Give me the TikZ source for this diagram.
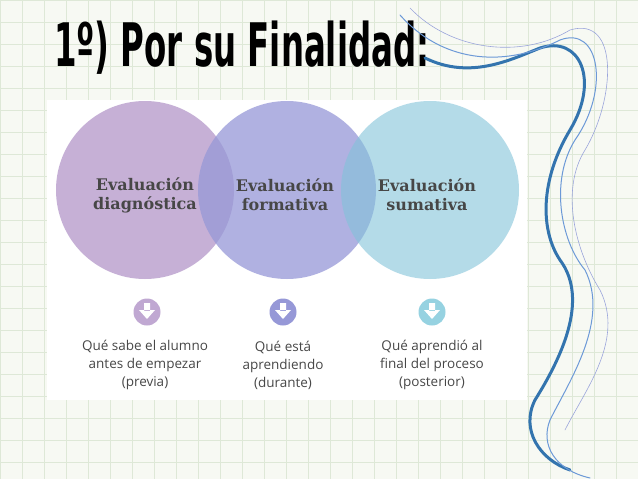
\documentclass[tikz,border=0pt]{standalone}
\usepackage{fontspec}
\setmainfont{Open Sans}
\newfontfamily\slab{DejaVu Serif}
\newfontfamily\titlef{DejaVu Sans Condensed}
\definecolor{bg}{RGB}{247,249,243}
\definecolor{gridc}{RGB}{222,232,215}
\definecolor{cA}{RGB}{192,168,210}
\definecolor{cB}{RGB}{150,152,215}
\definecolor{cC}{RGB}{130,195,218}
\definecolor{iC}{RGB}{150,210,225}
\begin{document}
\begin{tikzpicture}[x=1pt,y=-1pt,
  bigc/.style={circle,minimum size=178pt,inner sep=0pt},
  ico/.style={circle,minimum size=27pt,inner sep=0pt},
  lbl/.style={font=\slab\bfseries\fontsize{16}{19}\selectfont,text=black!72,align=center},
  desc/.style={font=\fontsize{13.5}{18}\selectfont,text=black!72,align=center},
  swirl/.style={line cap=round}]
\fill[bg] (0,0) rectangle (638,479);
\useasboundingbox (0,0) rectangle (638,479);
\foreach \x in {0,22,...,638} \draw[gridc,line width=0.6pt] (\x,0) -- (\x,479);
\foreach \y in {0,22,...,479} \draw[gridc,line width=0.6pt] (0,\y) -- (638,\y);
\fill[white] (47,100) rectangle (527,400);
\node[bigc,fill=cA,opacity=0.9] (c1) at (145,190) {};
\node[bigc,fill=cB,opacity=0.75] (c2) at (287,190) {};
\node[bigc,fill=cC,opacity=0.6] (c3) at (430,190) {};
\node[lbl] (t1) at (145,195) {Evaluación\\diagnóstica};
\node[lbl] (t2) at (285,195) {Evaluación\\formativa};
\node[lbl] (t3) at (427,195) {Evaluación\\sumativa};
\foreach \n/\x/\c in {i1/147/cA,i2/283/cB,i3/432/iC}{
  \node[ico,fill=\c] (\n) at (\x,312) {};
  \fill[white] (\x-3,303) rectangle (\x+3,311) (\x-8,310) -- (\x+8,310) -- (\x,319) -- cycle;
}
\node[desc] (d1) at (145,365) {Qué sabe el alumno\\antes de empezar\\(previa)};
\node[desc] (d2) at (283,365) {Qué está\\aprendiendo\\(durante)};
\node[desc] (d3) at (432,365) {Qué aprendió al\\final del proceso\\(posterior)};
\node[font=\titlef\bfseries\fontsize{60}{60}\selectfont,anchor=west,xscale=0.6,inner sep=0pt] (title) at (54,48) {1º) Por su Finalidad:};
% swirls
\draw[swirl,cyan!60!blue!80!black,line width=3pt] (425,58) .. controls (470,80) and (510,60) .. (540,48) .. controls (580,35) and (600,80) .. (570,130) .. controls (540,180) and (540,230) .. (560,260) .. controls (590,300) and (560,360) .. (535,400) .. controls (520,430) and (540,460) .. (570,470);
\draw[swirl,cyan!50!blue!60,line width=1pt] (400,15) .. controls (440,60) and (500,70) .. (560,40) .. controls (600,25) and (610,90) .. (575,140) .. controls (550,180) and (560,240) .. (585,270) .. controls (610,320) and (570,380) .. (550,420) .. controls (540,445) and (555,470) .. (590,478);
\draw[swirl,cyan!30!blue!40,line width=0.6pt] (410,8) .. controls (450,50) and (520,60) .. (570,30) .. controls (620,15) and (615,100) .. (585,150) .. controls (560,190) and (575,250) .. (600,290) .. controls (625,340) and (585,390) .. (565,430);
\end{tikzpicture}
\end{document}
